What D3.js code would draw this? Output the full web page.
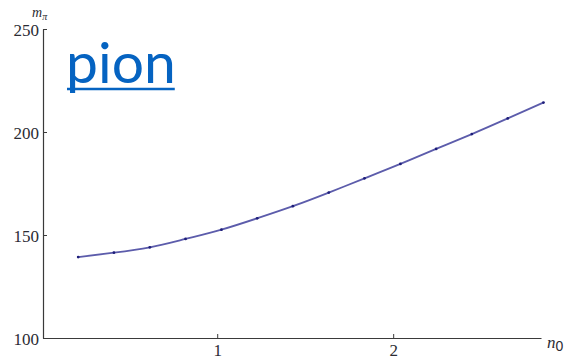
<!DOCTYPE html>
<html>
<head>
<meta charset="utf-8">
<script src="https://cdn.jsdelivr.net/npm/d3@7"></script>
<style>
  html, body { margin: 0; padding: 0; background: #fff; }
  svg { display: block; }
</style>
</head>
<body>
<svg id="chart" width="569" height="360"></svg>
<script>
// Pion mass as a function of n0
const n0Values = [0.21, 0.413, 0.617, 0.82, 1.024, 1.227, 1.43, 1.634, 1.837, 2.041, 2.244, 2.447, 2.651, 2.854];
const mPiValues = [139.3, 141.4, 144.0, 148.1, 152.6, 158.1, 164.0, 170.6, 177.5, 184.5, 191.8, 199.0, 206.6, 214.3];
const xTicks = [1, 2];
const yTicks = [100, 150, 200, 250];

const svg = d3.select("#chart");
const x = d3.scaleLinear().domain([0.01, 2.84]).range([43, 541]);
const y = d3.scaleLinear().domain([100, 250]).range([338, 29]);

const axisColor = "#3a3a3a";
const labelFont = "'Liberation Serif', 'DejaVu Serif', serif";

// x axis (ticks point up into the plot)
const xAxis = svg.append("g")
  .attr("transform", `translate(0,${y(100)})`)
  .call(d3.axisBottom(x).tickValues(xTicks).tickFormat(d3.format("d"))
    .tickSizeInner(-4).tickSizeOuter(0).tickPadding(6));
// y axis (ticks point right into the plot)
const yAxis = svg.append("g")
  .attr("transform", `translate(${x(0.01)},0)`)
  .call(d3.axisLeft(y).tickValues(yTicks).tickFormat(d3.format("d"))
    .tickSizeInner(-4).tickSizeOuter(0).tickPadding(4));

[xAxis, yAxis].forEach(g => {
  g.select(".domain").attr("stroke", axisColor).attr("stroke-width", 1.2);
  g.selectAll(".tick line").attr("stroke", axisColor).attr("stroke-width", 1);
  g.selectAll(".tick text")
    .attr("fill", "#2b2b33")
    .style("font-family", labelFont)
    .style("font-size", "17px");
});
xAxis.selectAll(".tick text").attr("dy", "0.7em");
yAxis.selectAll(".tick text").attr("dy", "0.36em");

// axis titles
const yTitle = svg.append("text")
  .attr("x", 32).attr("y", 17)
  .style("font-family", labelFont)
  .style("font-style", "italic")
  .style("font-size", "14px")
  .attr("fill", "#2b2b33");
yTitle.append("tspan").text("m");
yTitle.append("tspan").attr("dy", 3).style("font-size", "10px").text("π");

const xTitle = svg.append("text")
  .attr("x", 547).attr("y", 348)
  .style("font-family", labelFont)
  .style("font-size", "17px")
  .attr("fill", "#2b2b33");
xTitle.append("tspan").style("font-style", "italic").text("n");
xTitle.append("tspan").attr("dy", 3).style("font-family", "'Liberation Sans', sans-serif").style("font-size", "14px").text("0");

// smooth curve through the computed points
const pts = n0Values.map((n, i) => [n, mPiValues[i]]);
const line = d3.line()
  .x(d => x(d[0]))
  .y(d => y(d[1]))
  .curve(d3.curveNatural);

svg.append("path")
  .datum(pts)
  .attr("fill", "none")
  .attr("stroke", "#5c5cab")
  .attr("stroke-width", 1.8)
  .attr("d", line);

svg.selectAll("circle.pt")
  .data(pts)
  .join("circle")
  .attr("class", "pt")
  .attr("cx", d => x(d[0]))
  .attr("cy", d => y(d[1]))
  .attr("r", 1.4)
  .attr("fill", "#1e1e7a");

// "pion" heading with underline
const title = svg.append("text")
  .attr("x", 66).attr("y", 83)
  .style("font-family", "Lato, 'Open Sans', sans-serif")
  .style("font-size", "57px")
  .attr("fill", "#0563c1")
  .text("pion");
const tb = title.node().getBBox();
svg.append("line")
  .attr("x1", tb.x + 1).attr("x2", tb.x + tb.width - 1)
  .attr("y1", 89).attr("y2", 89)
  .attr("stroke", "#0563c1")
  .attr("stroke-width", 2.5);
</script>
</body>
</html>
